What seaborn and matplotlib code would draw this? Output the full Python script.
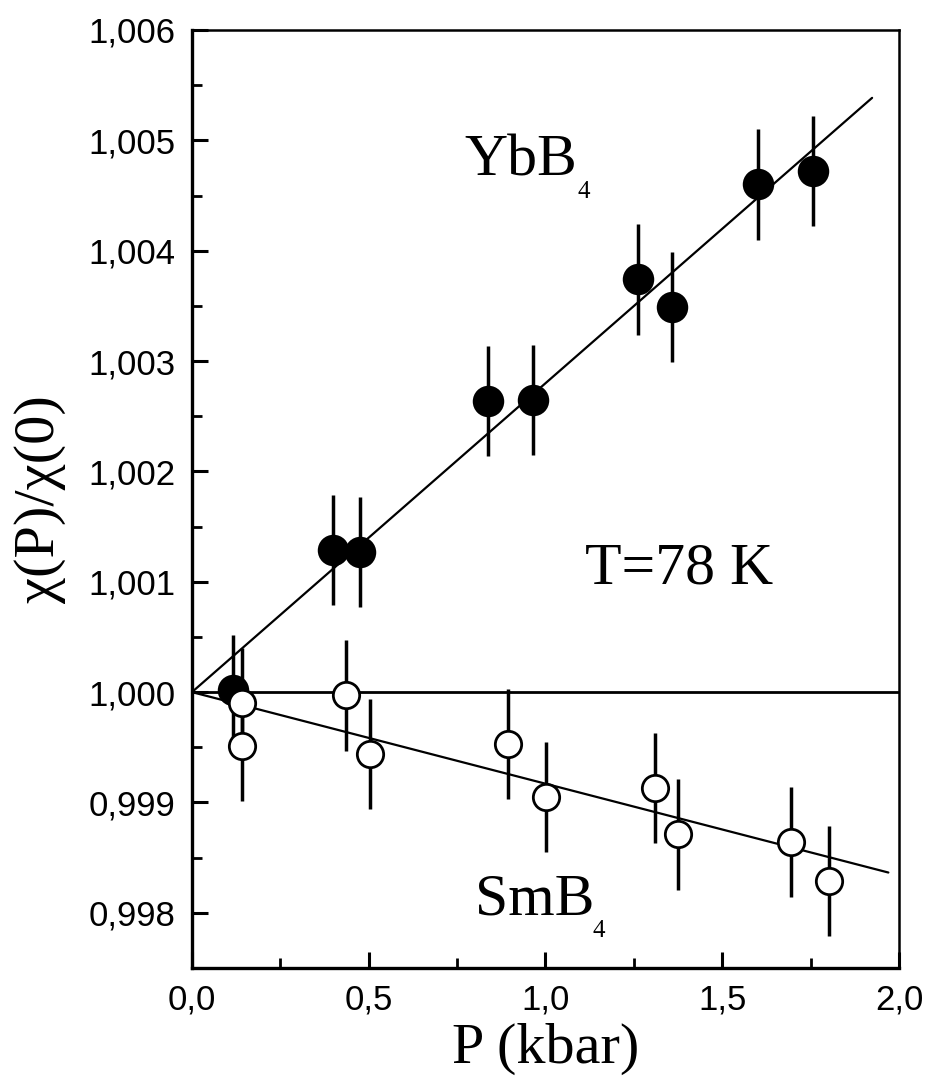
import numpy as np
import pandas as pd
import matplotlib
matplotlib.use("Agg")
import matplotlib.pyplot as plt
from matplotlib.ticker import FuncFormatter, MultipleLocator
import seaborn as sns

# YbB4 (filled circles)
yb_p = [0.116, 0.399, 0.475, 0.837, 0.965, 1.261, 1.357, 1.600, 1.756]
yb_chi = [1.00002, 1.00129, 1.00127, 1.00264, 1.00265, 1.00374, 1.00349, 1.00460, 1.00472]
yb_err = [0.0005] * len(yb_p)

# SmB4 (open circles)
sm_p = [0.141, 0.142, 0.435, 0.505, 0.895, 1.001, 1.310, 1.376, 1.696, 1.803]
sm_chi = [0.99990, 0.99951, 0.99997, 0.99944, 0.99953, 0.99905, 0.99913, 0.99871, 0.99864, 0.99829]
sm_err = [0.0005] * len(sm_p)

# linear fits through (0, 1)
yb_fit_p = [0.0, 1.924]
yb_fit_chi = [1.0, 1.005385]
sm_fit_p = [0.0, 1.970]
sm_fit_chi = [1.0, 0.998365]

yb = pd.DataFrame({"P": yb_p, "chi": yb_chi, "err": yb_err})
sm = pd.DataFrame({"P": sm_p, "chi": sm_chi, "err": sm_err})

sns.set_style("ticks")
plt.rcParams["font.family"] = ["Liberation Sans", "DejaVu Sans"]
for key in ["text.color", "axes.labelcolor", "xtick.color", "ytick.color", "axes.edgecolor"]:
    plt.rcParams[key] = "black"
serif = ["Liberation Serif", "DejaVu Serif"]

fig = plt.figure(figsize=(9.26, 10.83), dpi=100)
ax = fig.add_axes([0.2073, 0.1062, 0.7635, 0.8661])

ax.axhline(1.0, color="black", lw=2.0, zorder=1)
sns.lineplot(x=yb_fit_p, y=yb_fit_chi, color="black", lw=1.6, ax=ax, zorder=2)
sns.lineplot(x=sm_fit_p, y=sm_fit_chi, color="black", lw=1.6, ax=ax, zorder=2)

ax.errorbar(yb["P"], yb["chi"], yerr=yb["err"], fmt="none", ecolor="black",
            elinewidth=2.5, capsize=0, zorder=3)
ax.errorbar(sm["P"], sm["chi"], yerr=sm["err"], fmt="none", ecolor="black",
            elinewidth=2.5, capsize=0, zorder=3)

sns.scatterplot(data=yb, x="P", y="chi", s=440, color="black", edgecolor="black",
                marker="o", ax=ax, zorder=4)
sns.scatterplot(data=sm, x="P", y="chi", s=360, facecolor="white", edgecolor="black",
                linewidth=2.0, marker="o", ax=ax, zorder=5)

ax.set_xlim(0, 2.0)
ax.set_ylim(0.9975, 1.006)
ax.xaxis.set_major_locator(MultipleLocator(0.5))
ax.xaxis.set_minor_locator(MultipleLocator(0.25))
ax.yaxis.set_major_locator(MultipleLocator(0.001))
ax.yaxis.set_minor_locator(MultipleLocator(0.0005))
ax.xaxis.set_major_formatter(FuncFormatter(lambda v, _: f"{v:.1f}".replace(".", ",")))
ax.yaxis.set_major_formatter(FuncFormatter(lambda v, _: f"{v:.3f}".replace(".", ",")))

ax.tick_params(axis="both", which="major", direction="in", length=11.5, width=2.2,
               labelsize=25, top=False, right=False)
ax.tick_params(axis="both", which="minor", direction="in", length=7, width=2.0,
               top=False, right=False)
ax.tick_params(axis="y", which="major", pad=12)
ax.tick_params(axis="x", which="major", pad=11)

for side in ["left", "bottom"]:
    ax.spines[side].set_linewidth(2.4)
for side in ["top", "right"]:
    ax.spines[side].set_linewidth(1.8)

ax.set_xlabel("P (kbar)", fontsize=42, family=serif)
ax.set_ylabel("χ(P)/χ(0)", fontsize=42, family=serif)
ax.xaxis.set_label_coords(0.5, -0.0586)
ax.yaxis.set_label_coords(-0.178, 0.5)

ax.text(0.772, 1.004679, "YbB", fontsize=43, family=serif, va="baseline", ha="left")
ax.text(1.092, 1.00448, "4", fontsize=18, family=serif, va="baseline", ha="left")
ax.text(0.8006, 0.997982, "SmB", fontsize=43, family=serif, va="baseline", ha="left")
ax.text(1.134, 0.997783, "4", fontsize=18, family=serif, va="baseline", ha="left")
ax.text(1.112, 1.000986, "T=78 K", fontsize=43, family=serif, va="baseline", ha="left")

fig.savefig("out.png", dpi=100)
